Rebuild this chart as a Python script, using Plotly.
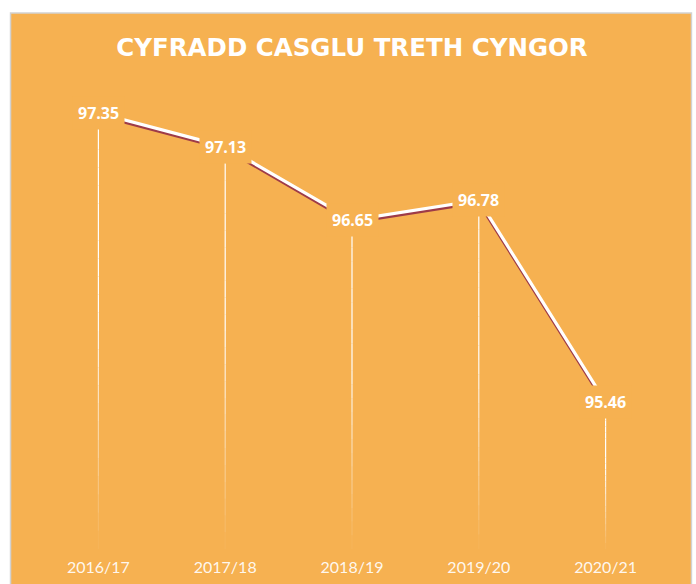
import plotly.graph_objects as go

categories = ["2016/17", "2017/18", "2018/19", "2019/20", "2020/21"]
values = [97.35, 97.13, 96.65, 96.78, 95.46]
label_text = ["97.35", "97.13", "96.65", "96.78", "95.46"]
title_text = "CYFRADD CASGLU TRETH CYNGOR"

ORANGE = "#F6B151"
SHADOW = "#9E3B48"
W, H = 696, 584
ML, MR, MT, MB = 34.5, 26.5, 90, 35
PW, PH = W - ML - MR, H - MT - MB
YMIN, YMAX = 94.5, 97.5
px_per_unit = PH / (YMAX - YMIN)

fig = go.Figure()

# drop lines with fading gradient
N = 24
for k in range(N):
    xs, ys = [], []
    for c, v in zip(categories, values):
        top = v - (v - YMIN) * k / N
        bot = v - (v - YMIN) * (k + 1) / N
        xs += [c, c, None]
        ys += [top, bot, None]
    t = (k + 0.5) / N
    op = max(0.0, min(1.0, (1 - t) * 1.8))
    fig.add_trace(go.Scatter(x=xs, y=ys, mode="lines",
                             line=dict(color="white", width=1.2),
                             opacity=op, hoverinfo="skip", showlegend=False))

# shadow of main line
off = 2.2 / px_per_unit
fig.add_trace(go.Scatter(x=categories, y=[v - off for v in values], mode="lines",
                         line=dict(color=SHADOW, width=3.2),
                         hoverinfo="skip", showlegend=False))
fig.add_trace(go.Scatter(x=categories, y=values, mode="lines",
                         line=dict(color="white", width=3.2),
                         hoverinfo="skip", showlegend=False))

for c, v, t in zip(categories, values, label_text):
    fig.add_annotation(x=c, y=v, text="<b>%s</b>" % t, showarrow=False,
                       font=dict(family="Open Sans", size=16, color="white"),
                       bgcolor=ORANGE, borderpad=5, xanchor="center", yanchor="middle")

# orange panel with grey frame
x0 = (10 - ML) / PW
x1 = (692 - ML) / PW
y0 = -(MB + 2) / PH
y1 = (H - MB - 13) / PH
fig.add_shape(type="rect", xref="paper", yref="paper", x0=x0, x1=x1, y0=y0, y1=y1,
              fillcolor=ORANGE, line=dict(color="#D2D2D2", width=1.5), layer="below")

fig.update_layout(
    width=W, height=H,
    margin=dict(l=ML, r=MR, t=MT, b=MB, autoexpand=False),
    paper_bgcolor="white", plot_bgcolor="rgba(0,0,0,0)",
    title=dict(text="<b>%s</b>" % title_text, x=0.5, xref="paper",
               y=1 - 47 / H, yref="container", xanchor="center", yanchor="middle",
               font=dict(family="DejaVu Sans", size=24.5, color="white")),
    xaxis=dict(type="category", range=[-0.5, len(categories) - 0.5],
               automargin=False,
               showgrid=False, zeroline=False, showline=False,
               ticks="", tickfont=dict(family="Liberation Sans Narrow, Lato", size=16,
                                       color="rgba(255,255,255,0.92)"),
               ticklabelstandoff=7),
    yaxis=dict(range=[YMIN, YMAX], visible=False, showgrid=False, automargin=False),
    showlegend=False,
)

fig.write_html("out.html")
